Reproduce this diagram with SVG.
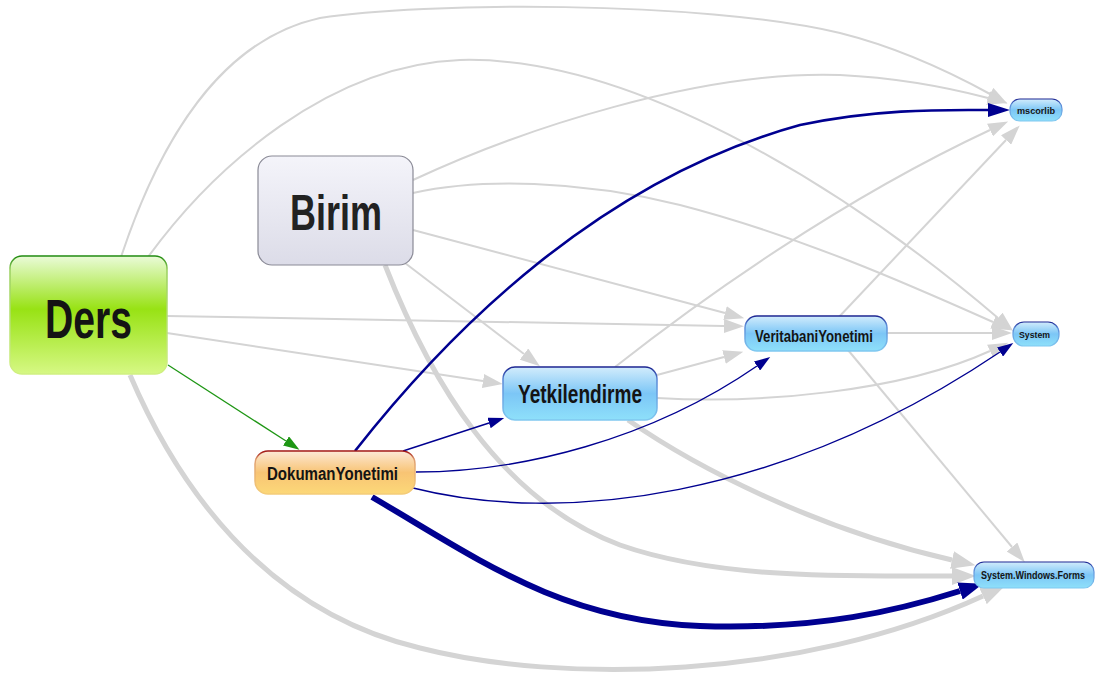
<svg xmlns="http://www.w3.org/2000/svg" width="1096" height="681" viewBox="0 0 1096 681">
  <defs>
    <!-- node fills -->
    <linearGradient id="gDers" x1="0" y1="0" x2="0" y2="1">
      <stop offset="0" stop-color="#eafbd8"/>
      <stop offset="0.45" stop-color="#98e214"/>
      <stop offset="1" stop-color="#d6f884"/>
    </linearGradient>
    <linearGradient id="sDers" x1="0" y1="0" x2="0" y2="1">
      <stop offset="0" stop-color="#1f8a10"/>
      <stop offset="0.12" stop-color="#9ad060"/>
      <stop offset="1" stop-color="#d0f080"/>
    </linearGradient>
    <linearGradient id="gBirim" x1="0" y1="0" x2="0" y2="1">
      <stop offset="0" stop-color="#f4f4fa"/>
      <stop offset="1" stop-color="#dcdce8"/>
    </linearGradient>
    <linearGradient id="gDok" x1="0" y1="0" x2="0" y2="1">
      <stop offset="0" stop-color="#fce8d6"/>
      <stop offset="0.5" stop-color="#f8c474"/>
      <stop offset="1" stop-color="#fcd878"/>
    </linearGradient>
    <linearGradient id="sDok" x1="0" y1="0" x2="0" y2="1">
      <stop offset="0" stop-color="#a01414"/>
      <stop offset="0.2" stop-color="#e0a070"/>
      <stop offset="1" stop-color="#f4cc78"/>
    </linearGradient>
    <linearGradient id="gBlue" x1="0" y1="0" x2="0" y2="1">
      <stop offset="0" stop-color="#d2ecfc"/>
      <stop offset="0.5" stop-color="#7cc6f6"/>
      <stop offset="1" stop-color="#8ee0fa"/>
    </linearGradient>
    <linearGradient id="sBlue" x1="0" y1="0" x2="0" y2="1">
      <stop offset="0" stop-color="#1c2490"/>
      <stop offset="0.25" stop-color="#5a8ad8"/>
      <stop offset="1" stop-color="#80c8f0"/>
    </linearGradient>

    <!-- arrowheads: drawn forward from the path end -->
    <marker id="aGray" markerUnits="userSpaceOnUse" viewBox="0 0 20 14" refX="0" refY="7" markerWidth="20" markerHeight="14" orient="auto">
      <path d="M0,0 L20,7 L0,14 z" fill="#d4d4d4"/>
    </marker>
    <marker id="aGrayL" markerUnits="userSpaceOnUse" viewBox="0 0 24 18" refX="0" refY="9" markerWidth="24" markerHeight="18" orient="auto">
      <path d="M0,0 L24,9 L0,18 z" fill="#d4d4d4"/>
    </marker>
    <marker id="aBlue" markerUnits="userSpaceOnUse" viewBox="0 0 16 11" refX="0" refY="5.5" markerWidth="16" markerHeight="11" orient="auto">
      <path d="M0,0 L16,5.5 L0,11 z" fill="#000090"/>
    </marker>
    <marker id="aBlueM" markerUnits="userSpaceOnUse" viewBox="0 0 22 14" refX="0" refY="7" markerWidth="22" markerHeight="14" orient="auto">
      <path d="M0,0 L22,7 L0,14 z" fill="#000090"/>
    </marker>
    <marker id="aBlueL" markerUnits="userSpaceOnUse" viewBox="0 0 24 18" refX="0" refY="9" markerWidth="24" markerHeight="18" orient="auto">
      <path d="M0,0 L24,9 L0,18 z" fill="#000090"/>
    </marker>
    <marker id="aGreen" markerUnits="userSpaceOnUse" viewBox="0 0 16 11" refX="0" refY="5.5" markerWidth="16" markerHeight="11" orient="auto">
      <path d="M0,0 L16,5.5 L0,11 z" fill="#1e9614"/>
    </marker>
  </defs>

  <style>
    .g  { fill: none; stroke: #d4d4d4; stroke-width: 2; marker-end: url(#aGray); }
    .gt { fill: none; stroke: #d4d4d4; stroke-width: 5; marker-end: url(#aGrayL); }
    .b  { fill: none; stroke: #000090; stroke-width: 1.4; marker-end: url(#aBlue); }
    .bm { fill: none; stroke: #000090; stroke-width: 2.6; marker-end: url(#aBlueM); }
    .bt { fill: none; stroke: #000090; stroke-width: 6; marker-end: url(#aBlueL); }
    .gr { fill: none; stroke: #1e9614; stroke-width: 1.3; marker-end: url(#aGreen); }
    text { font-family: "Liberation Sans", Arial, sans-serif; font-weight: bold; fill: #141414; text-anchor: start; }
  </style>

  <!-- dependency edges -->
  <g id="connectors">
    <!-- gray: third-party and indirect uses -->
    <path class="g" d="M121,257 C160,140 220,40 320,18 C420,2 700,0 840,33 C900,48 950,72 990,94"/>
    <path class="g" d="M148,257 C215,165 330,65 460,60 C640,55 860,200 998,318"/>
    <path class="g" d="M413,180 C520,130 700,70 840,75 C900,78 950,88 988,98"/>
    <path class="g" d="M413,193 C480,178 580,180 680,205 C800,236 910,285 993,322"/>
    <path class="g" d="M413,230 L725,313"/>
    <path class="g" d="M405,263 L524,354"/>
    <path class="g" d="M167,316 L724,326"/>
    <path class="g" d="M167,333 L483,381"/>
    <path class="g" d="M615,367 C700,300 840,200 990,130"/>
    <path class="g" d="M838,318 L1006,140"/>
    <path class="g" d="M657,375 L724,357"/>
    <path class="g" d="M657,398 C760,404 900,392 990,351"/>
    <path class="g" d="M886,333 L992,333"/>
    <path class="g" d="M848,350 L1012,547"/>
    <path class="gt" d="M130,375 C175,480 260,610 420,648 C560,684 800,680 983,596"/>
    <path class="gt" d="M385,265 C430,380 500,500 620,545 C720,580 850,576 952,576"/>
    <path class="gt" d="M628,420 C700,470 820,530 952,560"/>
    <!-- green: Ders uses DokumanYonetimi -->
    <path class="gr" d="M168,365 L286,441"/>
    <!-- blue: DokumanYonetimi outgoing -->
    <path class="bm" d="M355,451 C450,330 600,180 800,125 C880,108 950,110 988,110"/>
    <path class="b" d="M403,451 L489,423"/>
    <path class="b" d="M416,472 C520,472 650,440 757,366"/>
    <path class="b" d="M413,488 C560,525 780,500 1000,352"/>
    <path class="bt" d="M372,497 C480,560 560,620 700,626 C820,630 900,610 960,591"/>
  </g>

  <g id="node-ders">
    <rect x="10" y="256" width="157" height="118" rx="12" fill="url(#gDers)" stroke="url(#sDers)" stroke-width="1.5"/>
    <text x="45" y="338" font-size="56" textLength="87" lengthAdjust="spacingAndGlyphs">Ders</text>
  </g>

  <g id="node-birim">
    <rect x="258" y="156" width="155" height="109" rx="14" fill="url(#gBirim)" stroke="#8a8a96" stroke-width="1.2"/>
    <text x="290" y="230" font-size="50" textLength="92" lengthAdjust="spacingAndGlyphs" style="fill:#222">Birim</text>
  </g>

  <g id="node-dokumanyonetimi">
    <rect x="255" y="451" width="160" height="43" rx="13" fill="url(#gDok)" stroke="url(#sDok)" stroke-width="1.5"/>
    <text x="267" y="480" font-size="18" textLength="131" lengthAdjust="spacingAndGlyphs">DokumanYonetimi</text>
  </g>

  <g id="node-yetkilendirme">
    <rect x="503" y="367" width="154" height="53" rx="12" fill="url(#gBlue)" stroke="url(#sBlue)" stroke-width="1.5"/>
    <text x="518" y="403" font-size="25" textLength="124" lengthAdjust="spacingAndGlyphs">Yetkilendirme</text>
  </g>

  <g id="node-veritabaniyonetimi">
    <rect x="745" y="316" width="142" height="35" rx="12" fill="url(#gBlue)" stroke="url(#sBlue)" stroke-width="1.5"/>
    <text x="755" y="342" font-size="17" textLength="118" lengthAdjust="spacingAndGlyphs">VeritabaniYonetimi</text>
  </g>

  <g id="node-mscorlib">
    <rect x="1010" y="99" width="52" height="22" rx="10" fill="url(#gBlue)" stroke="url(#sBlue)" stroke-width="1.2"/>
    <text x="1017" y="114" font-size="9" textLength="38" lengthAdjust="spacingAndGlyphs">mscorlib</text>
  </g>

  <g id="node-system">
    <rect x="1013" y="322" width="46" height="24" rx="11" fill="url(#gBlue)" stroke="url(#sBlue)" stroke-width="1.2"/>
    <text x="1019" y="338" font-size="9" textLength="31" lengthAdjust="spacingAndGlyphs">System</text>
  </g>

  <g id="node-system-windows-forms">
    <rect x="974" y="562" width="120" height="26" rx="10" fill="url(#gBlue)" stroke="url(#sBlue)" stroke-width="1.2"/>
    <text x="981" y="579" font-size="10" textLength="104" lengthAdjust="spacingAndGlyphs">System.Windows.Forms</text>
  </g>
</svg>
